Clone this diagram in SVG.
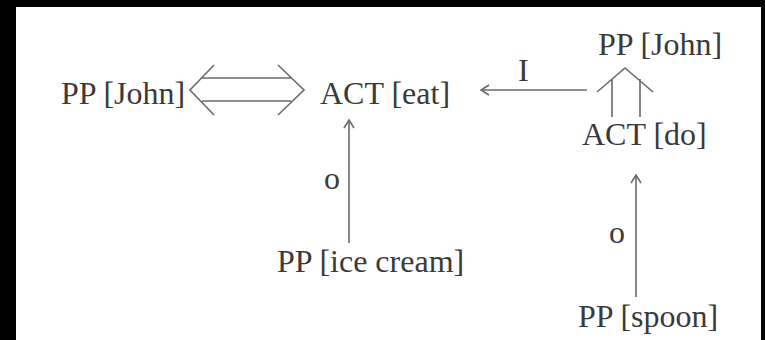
<svg xmlns="http://www.w3.org/2000/svg" width="765" height="340" viewBox="0 0 765 340">
<style>
text{font-family:"Liberation Serif","Times New Roman",serif;font-size:32px;fill:#3a3a3a}
.ln{stroke:#6a6a6a;stroke-width:1.6;fill:none}
</style>
<defs>
<marker id="ah" markerWidth="14" markerHeight="14" refX="10" refY="6" orient="auto" markerUnits="userSpaceOnUse">
<path d="M2,1 L10,6 L2,11" fill="none" stroke="#6a6a6a" stroke-width="1.6"/>
</marker>
</defs>
<rect x="0" y="0" width="765" height="340" fill="#000"/>
<rect x="16" y="7" width="745" height="333" fill="#fff"/>
<g id="pp-john-left"><text x="61" y="104">PP [John]</text></g>
<g id="act-eat"><text x="320" y="104">ACT [eat]</text></g>
<g id="pp-john-top"><text x="598" y="55">PP [John]</text></g>
<g id="act-do"><text x="582" y="145">ACT [do]</text></g>
<g id="pp-icecream"><text x="277" y="272">PP [ice cream]</text></g>
<g id="pp-spoon"><text x="578" y="327">PP [spoon]</text></g>
<g id="connectors">
<path class="ln" d="M214,65 L190,90 L214,115 M278,65 L304,90 L278,115 M202,78 L291,78 M202,101 L291,101"/>
<line class="ln" x1="587" y1="90" x2="481" y2="90" marker-end="url(#ah)"/>
<text x="518" y="81">I</text>
<path class="ln" d="M597,92 L625,68 L653,92 M612,117 L612,79 M640,117 L640,79"/>
<line class="ln" x1="349" y1="243" x2="349" y2="120" marker-end="url(#ah)"/>
<text x="324" y="189">o</text>
<line class="ln" x1="636" y1="297" x2="636" y2="175" marker-end="url(#ah)"/>
<text x="609" y="243">o</text>
</g>
</svg>
